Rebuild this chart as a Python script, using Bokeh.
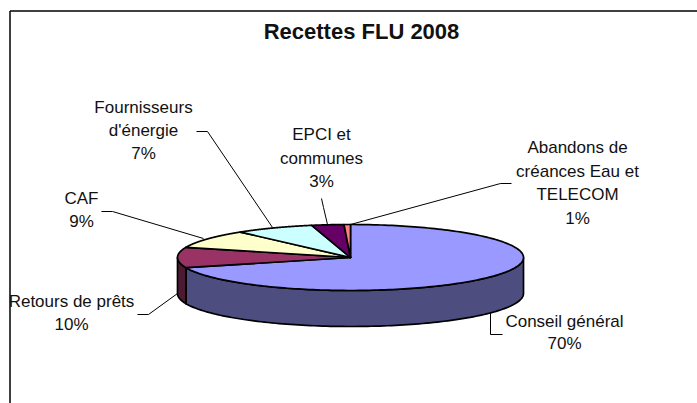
import numpy as np
from bokeh.plotting import figure
from bokeh.embed import file_html
from bokeh.resources import INLINE
from bokeh.models import Range1d
from bokeh.core.properties import value

title = "Recettes FLU 2008"
categories = ["Conseil général", "Retours de prêts", "CAF", "Fournisseurs d'énergie", "EPCI et communes", "Abandons de créances Eau et TELECOM"]
shares = [70.0, 10.0, 9.0, 7.4, 3.0, 0.6]
colors = ["#9999FF", "#993366", "#FFFFCC", "#CCFFFF", "#660066", "#FF8080"]
side_colors = ["#4D4D80", "#4D1A33", "#808066", "#668080", "#330033", "#804040"]

label_lines = [["Conseil général"], ["Retours de prêts"], ["CAF"], ["Fournisseurs", "d'énergie"], ["EPCI et", "communes"], ["Abandons de", "créances Eau et", "TELECOM"]]
label_pos = [(564, 321), (71, 301), (81, 198), (143, 107), (321, 134), (577, 147)]
leaders = [
    [(490, 312), (490, 334), (502, 334)],
    [(177, 293), (148, 314), (137, 314)],
    [(203, 238), (112, 211), (101, 211)],
    [(272, 227), (207, 131), (196, 131)],
    [(327, 224), (323, 207), (321, 198)],
    [(350, 224), (500, 183), (511, 183)],
]

cx, cy, rx, ry, depth = 350, 257, 173, 33, 36
FONT = "Liberation Sans"

p = figure(width=697, height=403, output_backend="svg", toolbar_location=None,
           x_range=Range1d(0, 697), y_range=Range1d(403, 0), min_border=0)
p.axis.visible = False
p.grid.visible = False
p.outline_line_color = None
p.background_fill_color = "white"

# frame: top and left rules only
p.line([9.5, 697], [10.5, 10.5], line_color="black", line_width=1.5)
p.line([9.5, 9.5], [10.5, 403], line_color="black", line_width=1.5)

def pt(t):
    return cx + rx * np.sin(t), cy - ry * np.cos(t)

edges = np.radians(np.cumsum([0] + shares) * 3.6)

# side walls, visible front half only
for i in range(len(shares)):
    a, b = max(edges[i], np.pi / 2), min(edges[i + 1], 3 * np.pi / 2)
    if b <= a:
        continue
    t = np.linspace(a, b, 120)
    x, y = pt(t)
    p.patch(np.r_[x, x[::-1]], np.r_[y, y[::-1] + depth], fill_color=side_colors[i],
            line_color="black", line_width=1.7, line_join="round")

# top face
for i in range(len(shares)):
    t = np.linspace(edges[i], edges[i + 1], 200)
    x, y = pt(t)
    p.patch(np.r_[cx, x], np.r_[cy, y], fill_color=colors[i],
            line_color="black", line_width=1.7, line_join="round")

for pts in leaders:
    p.line([q[0] for q in pts], [q[1] for q in pts], line_color="black", line_width=1)

def label(x, y, s, **kw):
    p.text([x], [y], text=[s], text_font=value(FONT), text_align="center",
           text_baseline="middle", text_color="#111111", **kw)

label(361, 31, title, text_font_size="22px", text_font_style="bold")
spacing = [22, 23, 23, 23, 23.5, 23.5]
for i, lines in enumerate(label_lines):
    lx, ly = label_pos[i]
    for j, s in enumerate(lines + [f"{round(shares[i])}%"]):
        label(lx, ly + j * spacing[i], s, text_font_size="17px")

open("out.html", "w").write(file_html(p, INLINE))
